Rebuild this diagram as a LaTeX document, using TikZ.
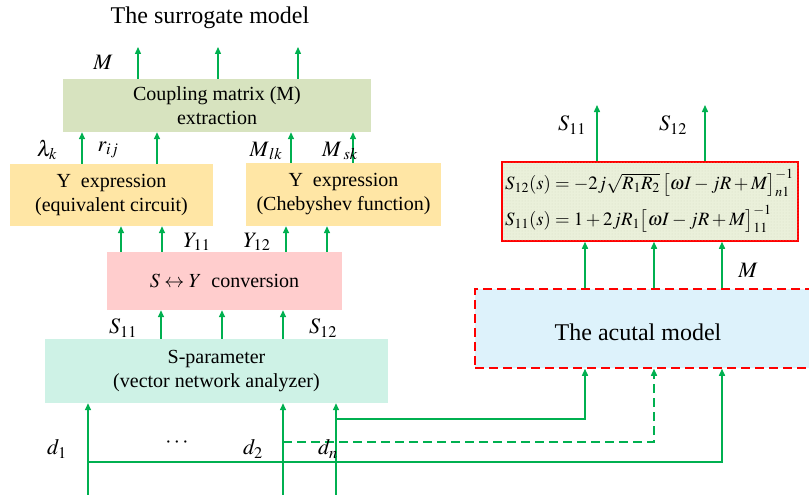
\documentclass[tikz,border=0pt]{standalone}
\usepackage{mathptmx}
\usepackage{fontspec}
\setmainfont{Liberation Serif}
\usetikzlibrary{arrows.meta,patterns}
\definecolor{agreen}{RGB}{0,176,80}
\definecolor{cgreen}{RGB}{215,227,191}
\definecolor{cyellow}{RGB}{255,230,165}
\definecolor{cpink}{RGB}{255,205,205}
\definecolor{cmint}{RGB}{206,242,230}
\definecolor{cblue}{RGB}{221,242,251}
\definecolor{cform}{RGB}{234,240,218}
\definecolor{cdot}{RGB}{214,222,196}
\definecolor{cred}{RGB}{255,0,0}
\tikzset{
  box/.style={rectangle, inner sep=0pt, align=center, font=\fontsize{20}{24}\selectfont},
  lbl/.style={inner sep=0pt, font=\fontsize{22}{26}\selectfont},
  arr/.style={draw=agreen, line width=1.4pt, -{Triangle[length=7pt,width=6pt]}},
  dline/.style={dash pattern=on 9pt off 5pt}
}
\begin{document}
\begin{tikzpicture}[x=1pt,y=-1pt]
\useasboundingbox (0,0) rectangle (809,495);

% title
\node[lbl, font=\fontsize{24}{28}\selectfont] (title) at (210,18) {The surrogate model};

% boxes
\node[box, fill=cgreen, minimum width=308, minimum height=53] (coup) at (217,105.5) {Coupling matrix (M)\\extraction};
\node[box, fill=cyellow, minimum width=203, minimum height=62] (yl) at (111.5,195) {Y\enspace expression\\(equivalent circuit)};
\node[box, fill=cyellow, minimum width=195, minimum height=63] (yr) at (343.5,194.5) {Y\enspace expression\\(Chebyshev function)};
\node[box, fill=cpink, minimum width=235, minimum height=58] (sy) at (224.5,281) {$S\leftrightarrow Y$\enspace conversion};
\node[box, fill=cmint, minimum width=343, minimum height=64] (sp) at (216.5,371) {S-parameter\\(vector network analyzer)};
\node[rectangle, inner sep=0pt, fill=cblue, draw=cred, line width=1.5pt, dline, minimum width=340, minimum height=79] (act) at (645,328.5) {};
\node[lbl, font=\fontsize{24}{28}\selectfont] (acttext) at (638,332) {The acutal model};
\node[rectangle, inner sep=0pt, fill=cform, draw=cred, line width=1.5pt, minimum width=296, minimum height=79,
      postaction={pattern=dots, pattern color=cdot}] (form) at (650,201.5) {};
\node[inner sep=0pt, align=left, anchor=west, font=\fontsize{18.8}{36}\selectfont] (formtext) at (505,201)
  {$S_{12}(s)=-2j\sqrt{R_1R_2}\,\bigl[\omega I-jR+M\bigr]_{n1}^{-1}$\\
   $S_{11}(s)=1+2jR_1\bigl[\omega I-jR+M\bigr]_{11}^{-1}$};

% free ends
\coordinate (o1) at (138,47);
\coordinate (o2) at (218,47);
\coordinate (o3) at (298,47);
\coordinate (f1) at (597,105);
\coordinate (f2) at (705,105);
\coordinate (in1) at (88,495);
\coordinate (in2) at (283,495);
\coordinate (in3) at (336,495);
\coordinate (j1) at (88,462);
\coordinate (j2) at (283,442);
\coordinate (j3) at (336,419);

% arrows of the surrogate model
\draw[arr] (coup.north -| o1) -- (o1);
\draw[arr] (coup.north -| o2) -- (o2);
\draw[arr] (coup.north -| o3) -- (o3);
\draw[arr] (yl.north -| 82,0) -- (coup.south -| 82,0);
\draw[arr] (yl.north -| 157,0) -- (coup.south -| 157,0);
\draw[arr] (yr.north -| 291,0) -- (coup.south -| 291,0);
\draw[arr] (yr.north -| 353,0) -- (coup.south -| 353,0);
\draw[arr] (sy.north -| 121,0) -- (yl.south -| 121,0);
\draw[arr] (sy.north -| 162,0) -- (yl.south -| 162,0);
\draw[arr] (sy.north -| 286,0) -- (yr.south -| 286,0);
\draw[arr] (sy.north -| 327,0) -- (yr.south -| 327,0);
\draw[arr] (sp.north -| 161,0) -- (sy.south -| 161,0);
\draw[arr] (sp.north -| 222,0) -- (sy.south -| 222,0);
\draw[arr] (sp.north -| 283,0) -- (sy.south -| 283,0);
\draw[arr] (in1) -- (sp.south -| in1);
\draw[arr] (in2) -- (sp.south -| in2);
\draw[arr] (in3) -- (sp.south -| in3);

% arrows of the actual model
\draw[arr] (j3) -| (act.south -| 585,0);
\draw[arr, dline] (j2) -| (act.south -| 654,0);
\draw[arr] (j1) -| (act.south -| 722,0);
\draw[arr] (act.north -| 585,0) -- (form.south -| 585,0);
\draw[arr] (act.north -| 654,0) -- (form.south -| 654,0);
\draw[arr] (act.north -| 722,0) -- (form.south -| 722,0);
\draw[arr] (form.north -| f1) -- (f1);
\draw[arr] (form.north -| f2) -- (f2);

% labels
\node[lbl] (lM) at (103,62) {$M$};
\node[lbl] (llam) at (47,150) {$\lambda_k$};
\node[lbl] (lr) at (108,150) {$r_{ij}$};
\node[lbl] (lMlk) at (266,151) {$M_{\,lk}$};
\node[lbl] (lMsk) at (340,151) {$M_{\;sk}$};
\node[lbl] (lY11) at (197,242) {$Y_{11}$};
\node[lbl] (lY12) at (257,242) {$Y_{12}$};
\node[lbl] (lS11) at (123,328) {$S_{11}$};
\node[lbl] (lS12) at (323,328) {$S_{12}$};
\node[lbl] (ld1) at (57,449) {$d_1$};
\node[lbl] (ldots) at (177,443) {$\cdots$};
\node[lbl] (ld2) at (253,449) {$d_2$};
\node[lbl] (ldn) at (328,449) {$d_n$};
\node[lbl] (rS11) at (572,125) {$S_{11}$};
\node[lbl] (rS12) at (673,125) {$S_{12}$};
\node[lbl] (rM) at (748,270) {$M$};
\end{tikzpicture}
\end{document}
